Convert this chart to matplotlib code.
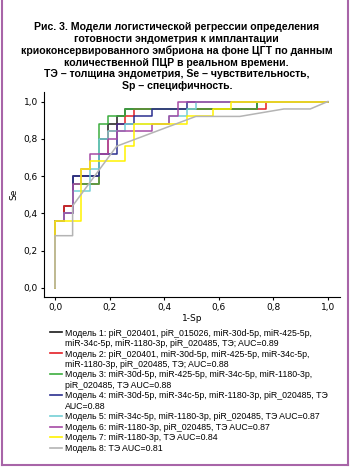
import numpy as np
import matplotlib
matplotlib.use("Agg")
import matplotlib.pyplot as plt
from matplotlib.lines import Line2D

# ROC curves: number of false positives (of 31 negatives) and sensitivity
N_NEG = 31

fp_1 = [0, 0, 1, 1, 2, 2, 5, 5, 6, 6, 7, 7, 8, 8, 23, 23, 31]
se_1 = [0, 0.36, 0.36, 0.44, 0.44, 0.60, 0.60, 0.80, 0.80, 0.88, 0.88, 0.92, 0.92, 0.96, 0.96, 1.0, 1.0]

fp_2 = [0, 0, 1, 1, 2, 2, 5, 5, 6, 6, 7, 7, 8, 8, 9, 9, 24, 24, 31]
se_2 = [0, 0.36, 0.36, 0.44, 0.44, 0.56, 0.56, 0.72, 0.72, 0.84, 0.84, 0.88, 0.88, 0.92, 0.92, 0.96, 0.96, 1.0, 1.0]

fp_3 = [0, 0, 1, 1, 2, 2, 5, 5, 6, 6, 8, 8, 23, 23, 31]
se_3 = [0, 0.36, 0.36, 0.40, 0.40, 0.56, 0.56, 0.88, 0.88, 0.92, 0.92, 0.96, 0.96, 1.0, 1.0]

fp_4 = [0, 0, 1, 1, 2, 2, 5, 5, 7, 7, 9, 9, 11, 11, 15, 15, 31]
se_4 = [0, 0.36, 0.36, 0.40, 0.40, 0.60, 0.60, 0.72, 0.72, 0.88, 0.88, 0.92, 0.92, 0.96, 0.96, 1.0, 1.0]

fp_5 = [0, 0, 1, 1, 2, 2, 4, 4, 5, 5, 6, 6, 8, 8, 13, 13, 15, 15, 16, 16, 31]
se_5 = [0, 0.36, 0.36, 0.40, 0.40, 0.52, 0.52, 0.64, 0.64, 0.80, 0.80, 0.84, 0.84, 0.88, 0.88, 0.92, 0.92, 0.96, 0.96, 1.0, 1.0]

fp_6 = [0, 0, 1, 1, 2, 2, 3, 3, 4, 4, 6, 6, 7, 7, 11, 11, 13, 13, 14, 14, 31]
se_6 = [0, 0.36, 0.36, 0.40, 0.40, 0.56, 0.56, 0.64, 0.64, 0.72, 0.72, 0.80, 0.80, 0.84, 0.84, 0.88, 0.88, 0.92, 0.92, 1.0, 1.0]

fp_7 = [0, 0, 3, 3, 4, 4, 8, 8, 9, 9, 15, 15, 18, 18, 20, 20, 31]
se_7 = [0, 0.36, 0.36, 0.64, 0.64, 0.68, 0.68, 0.76, 0.76, 0.88, 0.88, 0.92, 0.92, 0.96, 0.96, 1.0, 1.0]

fp_8 = [0, 0, 2, 2, 7, 16, 21, 26, 29, 31]
se_8 = [0, 0.28, 0.28, 0.44, 0.76, 0.92, 0.92, 0.96, 0.96, 1.0]

fp_all = [fp_1, fp_2, fp_3, fp_4, fp_5, fp_6, fp_7, fp_8]
se_all = [se_1, se_2, se_3, se_4, se_5, se_6, se_7, se_8]
colors = ['#1a1a1a', '#e41f26', '#3cae3e', '#2b2f8f', '#74d0d6', '#a54aa6', '#fff200', '#b4b4b4']

legend_lines = [
    ["Модель 1: piR_020401, piR_015026, miR-30d-5p, miR-425-5p,",
     "miR-34c-5p, miR-1180-3p, piR_020485, ТЭ; AUC=0.89"],
    ["Модель 2: piR_020401, miR-30d-5p, miR-425-5p, miR-34c-5p,",
     "miR-1180-3p, piR_020485, ТЭ; AUC=0.88"],
    ["Модель 3: miR-30d-5p, miR-425-5p, miR-34c-5p, miR-1180-3p,",
     "piR_020485, ТЭ AUC=0.88"],
    ["Модель 4: miR-30d-5p, miR-34c-5p, miR-1180-3p, piR_020485, ТЭ",
     "AUC=0.88"],
    ["Модель 5: miR-34c-5p, miR-1180-3p, piR_020485, ТЭ AUC=0.87"],
    ["Модель 6: miR-1180-3p, piR_020485, ТЭ AUC=0.87"],
    ["Модель 7: miR-1180-3p, ТЭ AUC=0.84"],
    ["Модель 8: ТЭ AUC=0.81"],
]

title = ("Рис. 3. Модели логистической регрессии определения\n"
         "готовности эндометрия к имплантации\n"
         "криоконсервированного эмбриона на фоне ЦГТ по данным\n"
         "количественной ПЦР в реальном времени.\n"
         "ТЭ – толщина эндометрия, Se – чувствительность,\n"
         "Sp – специфичность.")

yticks = [0.0, 0.2, 0.4, 0.6, 0.8, 1.0]
xticks = [0.0, 0.2, 0.4, 0.6, 0.8, 1.0]

plt.rcParams['font.family'] = ['Liberation Sans', 'DejaVu Sans']

fig = plt.figure(figsize=(3.5, 4.68), dpi=100)
ax = fig.add_axes([0.126, 0.365, 0.845, 0.438])

for fp, se, c in zip(fp_all, se_all, colors):
    ax.plot(np.array(fp) / N_NEG, se, color=c, lw=1.1)

ax.set_xlim(-0.04, 1.044)
ax.set_ylim(-0.05, 1.05)
ax.set_xticks(xticks)
ax.set_yticks(yticks)
tick_font = dict(family='DejaVu Sans', size=6.5)
ax.set_xticklabels([f"{v:.1f}".replace('.', ',') for v in xticks], fontdict=tick_font)
ax.set_yticklabels([f"{v:.1f}".replace('.', ',') for v in yticks], fontdict=tick_font)
ax.tick_params(length=2.5, width=0.8, pad=2)
ax.spines['top'].set_visible(False)
ax.spines['right'].set_visible(False)
ax.set_xlabel("1-Sp", fontdict=tick_font, labelpad=1)
ax.set_ylabel("Se", fontdict=tick_font, labelpad=4)

fig.text(0.505, 0.952, title, ha='center', va='top', fontsize=7.6,
         fontweight='bold', linespacing=1.19)

# legend: one row per printed line, continuation lines without a handle
handles = []
labels = []
for lines, c in zip(legend_lines, colors):
    for i, txt in enumerate(lines):
        if i == 0:
            handles.append(Line2D([], [], color=c, lw=1.2))
        else:
            handles.append(Line2D([], [], color='none'))
        labels.append(txt)
fig.legend(handles, labels, loc='upper left', bbox_to_anchor=(0.142, 0.298),
           frameon=False, fontsize=6.3, handlelength=1.4, handletextpad=0.4,
           labelspacing=0.17, borderaxespad=0, borderpad=0)

# purple frame
frame_c = '#a865a8'
fig.add_artist(Line2D([0.006, 0.006], [0.0065, 1.0], color=frame_c, lw=1.5))
fig.add_artist(Line2D([0.994, 0.994], [0.0065, 1.0], color=frame_c, lw=1.5))
fig.add_artist(Line2D([0.006, 0.994], [0.0065, 0.0065], color=frame_c, lw=1.5))

fig.savefig("out.png", dpi=100)
